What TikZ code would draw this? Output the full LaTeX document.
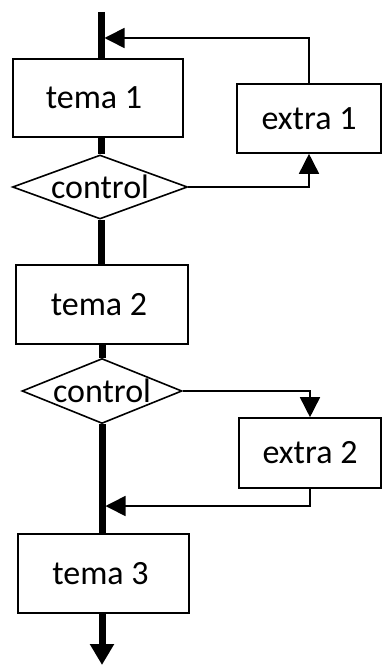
\documentclass[tikz,border=0pt]{standalone}
\usepackage{fontspec}
\setmainfont{Carlito}
\usetikzlibrary{arrows.meta,shapes.geometric}
\begin{document}
\begin{tikzpicture}[x=1pt,y=-1pt,
  txt/.style={font=\fontsize{34}{38}\selectfont},
  stepbox/.style={draw,line width=1.6pt,inner sep=0pt,txt},
  choice/.style={draw,diamond,line width=1.6pt,inner sep=0pt},
  spine/.style={line width=7pt},
  spinearrow/.style={spine,-{Triangle[length=21pt,width=23pt]}},
  link/.style={line width=1.6pt},
  linkarrow/.style={link,-{Triangle[length=20pt,width=20pt]}}]
  \useasboundingbox (0,0) rectangle (383,666);

  % main column
  \coordinate (start) at (101,12);
  \node[stepbox,minimum width=170pt,minimum height=78pt] (tema1) at (98,98) {tema 1\hspace*{8pt}};
  \node[choice,minimum width=175pt,minimum height=64pt] (d1) at (100,187) {};
  \node[txt,inner sep=0pt] (d1t) at (d1) {control};
  \node[stepbox,minimum width=172pt,minimum height=79pt] (tema2) at (102,304.5) {tema 2\hspace*{6pt}};
  \node[choice,minimum width=160pt,minimum height=65pt] (d2) at (102,391) {};
  \node[txt,inner sep=0pt] (d2t) at (d2) {control};
  \node[stepbox,minimum width=171pt,minimum height=79pt] (tema3) at (103.5,573.5) {tema 3\hspace*{6pt}};
  \coordinate (finish) at (102,665);

  % side branches
  \node[stepbox,minimum width=144pt,minimum height=69pt] (extra1) at (309,118.5) {extra 1};
  \node[stepbox,minimum width=142pt,minimum height=70pt] (extra2) at (310,453) {extra 2};
  \coordinate (j1) at (104.5,38);
  \coordinate (j2) at (105.5,506);

  % thick flow line
  \draw[spine] (start) -- (tema1.north -| start);
  \draw[spine] (tema1.south -| start) -- (d1.north -| start);
  \draw[spine] (d1.south -| start) -- (tema2.north -| start);
  \draw[spine] (tema2.south -| finish) -- (d2.north -| finish);
  \draw[spine] (d2.south -| finish) -- (tema3.north -| finish);
  \draw[spinearrow] (tema3.south -| finish) -- (finish);

  % branch connectors
  \draw[linkarrow] (d1.east) -| (extra1.south);
  \draw[linkarrow] (extra1.north) |- (j1);
  \draw[linkarrow] (d2.east) -| (extra2.north);
  \draw[linkarrow] (extra2.south) |- (j2);
\end{tikzpicture}
\end{document}
